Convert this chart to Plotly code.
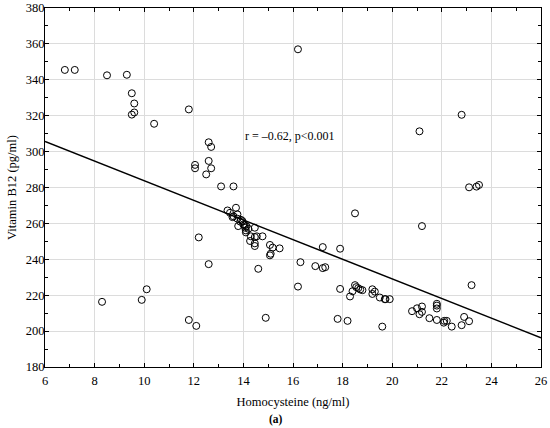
import plotly.graph_objects as go

homocysteine = [
    6.8, 7.2, 8.5, 9.3, 9.5, 9.6, 9.5, 9.6, 10.4, 11.8, 12.6, 12.7, 12.05, 12.05, 12.6, 12.7, 12.5, 13.1, 13.6, 13.7,
    8.3, 9.9, 10.1, 11.8, 12.1, 12.2, 12.6, 14.6, 14.9,
    13.36, 13.46, 13.56, 13.76, 13.76, 13.79, 13.87, 13.96, 14.0, 14.07, 14.12, 14.1, 14.2, 14.46, 14.3, 14.27,
    14.46, 14.54, 14.77, 14.46, 14.46, 15.07, 15.18, 15.46, 15.07, 15.1, 13.6, 13.9, 14.05, 14.1,
    16.2, 22.8, 21.1, 23.1, 23.4, 23.5, 18.5, 21.2, 17.2, 17.9, 16.3, 16.9, 17.2, 17.3, 16.2, 17.9, 18.3, 18.4,
    18.5, 18.55, 18.63, 18.71, 18.8, 19.2, 19.2, 19.3, 19.5, 19.7, 19.73, 19.9, 17.8, 18.2, 19.6, 20.8, 21.0,
    21.1, 21.2, 21.2, 21.5, 21.8, 21.8, 21.8, 21.8, 22.08, 22.1, 22.2, 22.4, 22.8, 22.9, 23.1, 23.2,
]
vitamin_b12 = [
    345.5, 345.5, 342.5, 342.8, 332.5, 326.8, 320.6, 321.8, 315.5, 323.5, 305.2, 302.6, 292.6, 290.7, 294.8, 290.7, 287.3, 280.6, 280.6, 268.7,
    216.3, 217.4, 223.3, 206.2, 202.9, 252.2, 237.3, 234.7, 207.4,
    267.2, 265.9, 263.5, 265.0, 262.6, 258.5, 261.0, 261.3, 259.4, 257.6, 258.5, 256.1, 257.0, 257.6, 252.8, 250.2,
    252.4, 252.8, 252.8, 248.9, 247.4, 248.0, 246.5, 246.1, 242.2, 243.1, 264.0, 262.0, 259.0, 255.0,
    357.0, 320.5, 311.3, 280.1, 280.5, 281.4, 265.6, 258.5, 246.8, 245.9, 238.4, 236.2, 235.1, 235.6, 224.8, 223.5, 219.3, 222.2,
    225.6, 224.5, 223.9, 223.2, 222.8, 223.3, 220.7, 222.0, 218.7, 217.8, 217.8, 217.8, 206.8, 205.7, 202.5, 211.1, 212.7,
    209.4, 213.7, 210.7, 207.2, 215.2, 214.2, 212.6, 206.2, 204.7, 205.7, 205.7, 202.5, 203.3, 207.9, 205.5, 225.6,
]
fit_x = [6, 26]
fit_y = [305.6, 196.3]
annotation_text = "r = \u20130.62, p<0.001"
x_title = "Homocysteine (ng/ml)"
y_title = "Vitamin B12 (pg/ml)"
panel_label = "(a)"

FONT = "Liberation Serif, Times New Roman, serif"

fig = go.Figure()
fig.add_trace(go.Scatter(
    x=fit_x, y=fit_y, mode="lines",
    line=dict(color="black", width=1.5), hoverinfo="skip", showlegend=False,
))
fig.add_trace(go.Scatter(
    x=homocysteine, y=vitamin_b12, mode="markers",
    marker=dict(symbol="circle-open", size=7, color="black", line=dict(width=1, color="black")),
    showlegend=False,
))

axis_common = dict(
    showline=True, linecolor="black", linewidth=1, mirror="ticks",
    ticks="inside", ticklen=4, tickcolor="black",
    showgrid=True, gridcolor="#dcdcdc", gridwidth=1,
    zeroline=False, automargin=False,
    tickfont=dict(family=FONT, size=12.5, color="black"),
)

fig.update_xaxes(
    range=[6, 26], dtick=2, tick0=6,
    minor=dict(dtick=1, ticks="inside", ticklen=3, tickcolor="black", showgrid=False),
    title=dict(text=x_title, font=dict(family=FONT, size=12.5, color="black"), standoff=10),
    ticklabelstandoff=2,
    **axis_common,
)
fig.update_yaxes(
    range=[180, 380], dtick=20, tick0=180,
    minor=dict(dtick=10, ticks="inside", ticklen=3, tickcolor="black", showgrid=False),
    title=dict(text=y_title, font=dict(family=FONT, size=12.5, color="black"), standoff=6),
    ticklabelstandoff=-3,
    **axis_common,
)

fig.add_annotation(
    x=14.0, y=308.7, xref="x", yref="y", text=annotation_text, showarrow=False,
    xanchor="left", yanchor="middle", font=dict(family=FONT, size=12, color="black"),
)
fig.add_annotation(
    x=0.465, y=-0.145, xref="paper", yref="paper", text="<b>" + panel_label + "</b>", showarrow=False,
    xanchor="center", yanchor="middle", font=dict(family=FONT, size=11.5, color="black"),
)

fig.update_layout(
    width=550, height=428,
    margin=dict(l=45, r=9, t=8, b=61),
    plot_bgcolor="white", paper_bgcolor="white",
)

fig.write_html(
    "out.html",
    config={"displayModeBar": False},
    post_script="document.body.style.margin='0';document.body.style.overflow='hidden';document.documentElement.style.overflow='hidden';",
)
